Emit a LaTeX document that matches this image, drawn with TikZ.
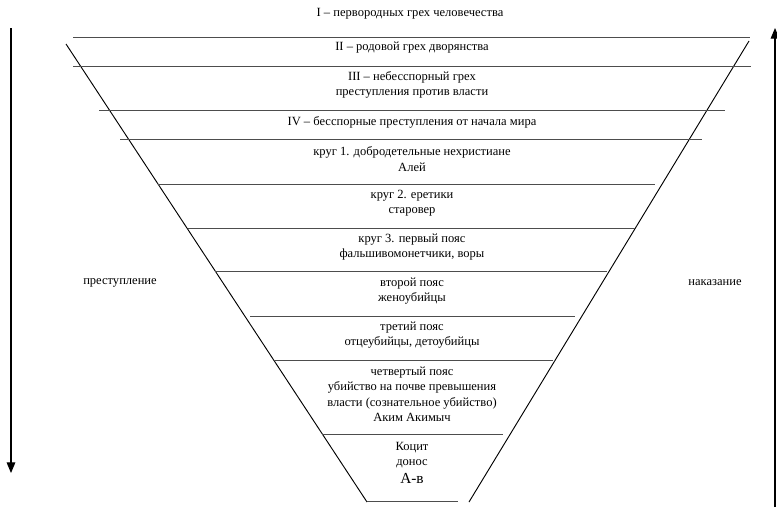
\documentclass[tikz,border=0pt]{standalone}
\usepackage{fontspec}
\setmainfont{Liberation Serif}
\usetikzlibrary{arrows.meta}
\definecolor{HellInk}{HTML}{000000}
\definecolor{HellRule}{HTML}{4D4D4D}
\tikzset{
  layer/.style={align=center,font=\fontsize{9.4}{11.6}\selectfont,inner sep=0pt,text=HellInk},
  rim/.style={draw=HellRule,line width=0.6pt},
  side/.style={draw=HellInk,line width=0.7pt},
  axis/.style={-{Triangle[length=8pt,width=6.5pt]},line width=0.8pt,draw=HellInk}
}

\begin{document}
\begin{tikzpicture}[x=0.75pt,y=-0.75pt]
  \useasboundingbox (0,0) rectangle (777,507);
  % funnel sides
  \draw[side] (66,44) -- (367,502);
  \draw[side] (749,41) -- (469,502);
  % circle rims
  \draw[rim] (73,37) -- (750,37);
  \draw[rim] (73,66) -- (751,66);
  \draw[rim] (99,110) -- (725,110);
  \draw[rim] (120,139) -- (702,139);
  \draw[rim] (158,184) -- (655,184);
  \draw[rim] (188,228) -- (635,228);
  \draw[rim] (215,271) -- (607,271);
  \draw[rim] (250,316) -- (575,316);
  \draw[rim] (273,360) -- (553,360);
  \draw[rim] (322,434) -- (503,434);
  \draw[rim] (367,501) -- (458,501);
  % layer texts
  \node[layer] (sin1) at (410,14) {I – первородных грех человечества};
  \node[layer] (sin2) at (412,48) {II – родовой грех дворянства};
  \node[layer] (sin3) at (412,85) {III – небесспорный грех\\преступления против власти};
  \node[layer] (sin4) at (412,122) {IV – бесспорные преступления от начала мира};
  \node[layer] (ring1) at (412,159) {круг 1. добродетельные нехристиане\\Алей};
  \node[layer] (ring2) at (412,203) {круг 2. еретики\\старовер};
  \node[layer] (ring3) at (412,247) {круг 3. первый пояс\\фальшивомонетчики, воры};
  \node[layer] (belt2) at (412,291) {второй пояс\\женоубийцы};
  \node[layer] (belt3) at (412,335) {третий пояс\\отцеубийцы, детоубийцы};
  \node[layer] (belt4) at (412,394) {четвертый пояс\\убийство на почве превышения\\власти (сознательное убийство)\\Аким Акимыч};
  \node[layer] (cocyt) at (412,455) {Коцит\\донос};
  \node[layer,font=\fontsize{11.5}{13}\selectfont] (traitor) at (412,478) {А-в};
  % side axes
  \node[layer] (crime) at (120,283) {преступление};
  \node[layer] (pain) at (715,283) {наказание};
  \coordinate (crimeTop) at (11,28);
  \coordinate (crimeEnd) at (11,473);
  \coordinate (painLow) at (775,507);
  \coordinate (painTop) at (775,28);
  \draw[axis] (crimeTop) -- (crimeEnd);
  \draw[axis] (painLow) -- (painTop);
\end{tikzpicture}
\end{document}
